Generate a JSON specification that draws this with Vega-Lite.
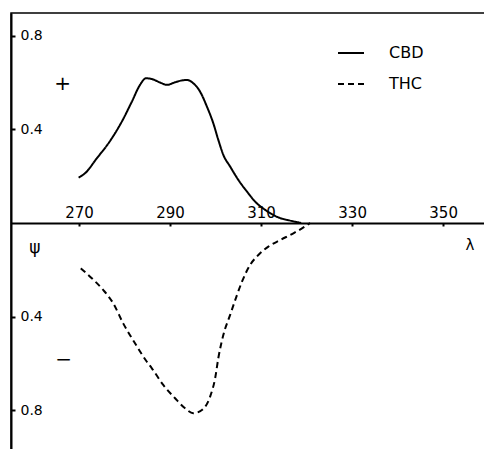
{
  "$schema": "https://vega.github.io/schema/vega-lite/v6.json",
  "width": 474,
  "height": 437,
  "padding": {"left": 11, "top": 13, "right": 0, "bottom": 0},
  "autosize": {"type": "none"},
  "background": "white",
  "config": {
    "view": {"stroke": "black", "strokeWidth": 1.5},
    "font": "DejaVu Sans",
    "axis": {"grid": false, "title": null, "domainColor": "black", "tickColor": "black", "labelColor": "black", "labelFont": "DejaVu Sans"}
  },
  "datasets": {
    "curves": [
      {"series": "CBD", "wl": 269.9, "v": 0.194},
      {"series": "CBD", "wl": 271.3, "v": 0.212},
      {"series": "CBD", "wl": 273.9, "v": 0.276},
      {"series": "CBD", "wl": 276.7, "v": 0.347},
      {"series": "CBD", "wl": 279.4, "v": 0.433},
      {"series": "CBD", "wl": 281.6, "v": 0.518},
      {"series": "CBD", "wl": 283.4, "v": 0.59},
      {"series": "CBD", "wl": 284.7, "v": 0.618},
      {"series": "CBD", "wl": 286.0, "v": 0.615},
      {"series": "CBD", "wl": 287.8, "v": 0.6},
      {"series": "CBD", "wl": 289.3, "v": 0.59},
      {"series": "CBD", "wl": 291.1, "v": 0.601},
      {"series": "CBD", "wl": 292.6, "v": 0.609},
      {"series": "CBD", "wl": 293.7, "v": 0.611},
      {"series": "CBD", "wl": 295.1, "v": 0.597},
      {"series": "CBD", "wl": 296.6, "v": 0.561},
      {"series": "CBD", "wl": 298.1, "v": 0.497},
      {"series": "CBD", "wl": 299.5, "v": 0.426},
      {"series": "CBD", "wl": 300.6, "v": 0.355},
      {"series": "CBD", "wl": 301.7, "v": 0.291},
      {"series": "CBD", "wl": 303.2, "v": 0.241},
      {"series": "CBD", "wl": 305.0, "v": 0.184},
      {"series": "CBD", "wl": 306.9, "v": 0.134},
      {"series": "CBD", "wl": 308.7, "v": 0.091},
      {"series": "CBD", "wl": 310.9, "v": 0.056},
      {"series": "CBD", "wl": 313.4, "v": 0.027},
      {"series": "CBD", "wl": 316.4, "v": 0.01},
      {"series": "CBD", "wl": 317.8, "v": 0.004},
      {"series": "CBD", "wl": 318.8, "v": 0.0},
      {"series": "THC", "wl": 270.4, "v": -0.194},
      {"series": "THC", "wl": 272.8, "v": -0.236},
      {"series": "THC", "wl": 275.3, "v": -0.286},
      {"series": "THC", "wl": 277.5, "v": -0.343},
      {"series": "THC", "wl": 279.7, "v": -0.429},
      {"series": "THC", "wl": 282.3, "v": -0.514},
      {"series": "THC", "wl": 284.9, "v": -0.593},
      {"series": "THC", "wl": 286.0, "v": -0.621},
      {"series": "THC", "wl": 288.5, "v": -0.692},
      {"series": "THC", "wl": 291.1, "v": -0.749},
      {"series": "THC", "wl": 293.3, "v": -0.792},
      {"series": "THC", "wl": 295.1, "v": -0.813},
      {"series": "THC", "wl": 297.0, "v": -0.799},
      {"series": "THC", "wl": 298.8, "v": -0.742},
      {"series": "THC", "wl": 299.9, "v": -0.664},
      {"series": "THC", "wl": 300.6, "v": -0.578},
      {"series": "THC", "wl": 301.7, "v": -0.479},
      {"series": "THC", "wl": 303.2, "v": -0.393},
      {"series": "THC", "wl": 304.7, "v": -0.308},
      {"series": "THC", "wl": 305.8, "v": -0.251},
      {"series": "THC", "wl": 307.6, "v": -0.179},
      {"series": "THC", "wl": 309.4, "v": -0.137},
      {"series": "THC", "wl": 311.6, "v": -0.101},
      {"series": "THC", "wl": 314.2, "v": -0.073},
      {"series": "THC", "wl": 317.1, "v": -0.044},
      {"series": "THC", "wl": 319.4, "v": -0.018},
      {"series": "THC", "wl": 320.8, "v": 0.0}
    ],
    "notes": [
      {"wl": 266.4, "v": 0.595, "t": "+", "size": 20},
      {"wl": 266.6, "v": -0.585, "t": "−", "size": 20},
      {"wl": 260.3, "v": -0.105, "t": "ψ", "size": 17},
      {"wl": 355.9, "v": -0.095, "t": "λ", "size": 15}
    ]
  },
  "layer": [
    {
      "data": {"name": "curves"},
      "mark": {"type": "line", "interpolate": "monotone", "strokeWidth": 2, "color": "black"},
      "encoding": {
        "x": {
          "field": "wl", "type": "quantitative",
          "scale": {"domain": [255.05, 359.2], "nice": false, "zero": false},
          "axis": {
            "orient": "bottom", "offset": -227, "values": [270, 290, 310, 330, 350],
            "tickSize": 3, "tickWidth": 2, "domainWidth": 2, "labelPadding": -9,
            "labelBaseline": "alphabetic", "labelFontSize": 15, "labelFlush": false
          }
        },
        "y": {
          "field": "v", "type": "quantitative",
          "scale": {"domain": [-0.97, 0.897], "nice": false, "zero": false},
          "axis": {
            "orient": "left", "values": [-0.8, -0.4, 0.4, 0.8],
            "labelExpr": "format(abs(datum.value), '.1f')",
            "tickSize": -4, "tickWidth": 2, "domainWidth": 2, "labelPadding": -5,
            "labelAlign": "left", "labelBaseline": "middle", "labelFontSize": 14, "labelFlush": false
          }
        },
        "strokeDash": {
          "field": "series", "type": "nominal",
          "scale": {"domain": ["CBD", "THC"], "range": [[1, 0], [6, 4]]},
          "legend": {
            "title": null, "orient": "none", "legendX": 326, "legendY": 26,
            "symbolType": "stroke", "symbolSize": 676, "symbolStrokeWidth": 2,
            "symbolStrokeColor": "black", "labelOffset": 24, "labelFontSize": 16,
            "labelFont": "DejaVu Sans", "labelColor": "black", "rowPadding": 9, "padding": 0
          }
        }
      }
    },
    {
      "data": {"name": "notes"},
      "mark": {"type": "text", "color": "black", "align": "center", "baseline": "middle", "font": "DejaVu Sans"},
      "encoding": {
        "x": {"field": "wl", "type": "quantitative"},
        "y": {"field": "v", "type": "quantitative"},
        "text": {"field": "t"},
        "size": {"field": "size", "type": "quantitative", "scale": null}
      }
    }
  ]
}
